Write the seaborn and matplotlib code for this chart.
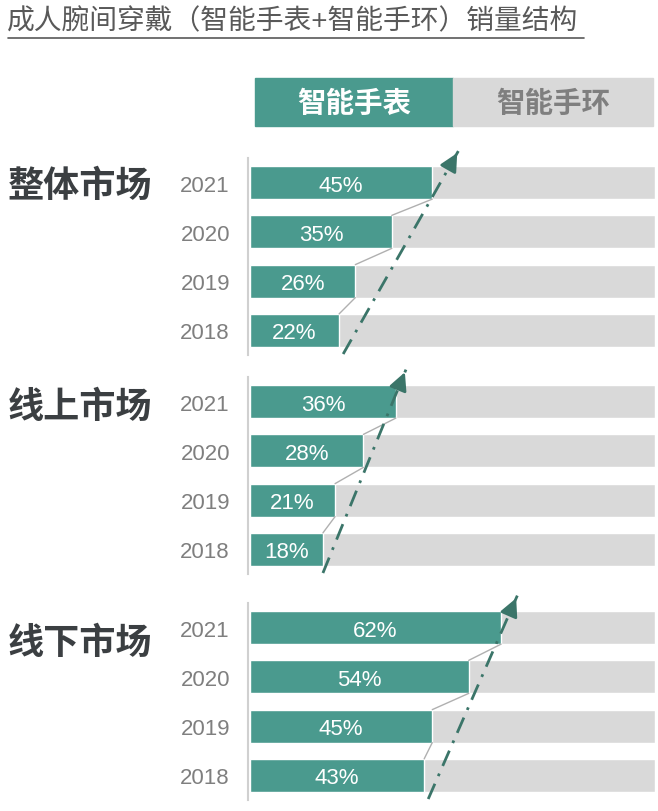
import pandas as pd
import matplotlib.pyplot as plt
import seaborn as sns
from matplotlib import patches
from matplotlib.lines import Line2D

# data
title = "成人腕间穿戴（智能手表+智能手环）销量结构"
legend_labels = ["智能手表", "智能手环"]
panel_names = ["整体市场", "线上市场", "线下市场"]
years = ["2021", "2020", "2019", "2018"]
overall = [45, 35, 26, 22]
online = [36, 28, 21, 18]
offline = [62, 54, 45, 43]
# trend arrow x start (below 2018) / end (above 2021)
trend_start = [23, 18, 44]
trend_end = [51.5, 38.5, 66]

teal = "#4a9a8e"
light = "#d9d9d9"
arrow_col = "#3b7569"

sns.set_theme(style="white")
plt.rcParams['font.family'] = ['Liberation Sans', 'Noto Sans CJK SC', 'DejaVu Sans']

W, H = 658, 812
fig = plt.figure(figsize=(W / 100, H / 100), dpi=100)

# title with underline
fig.text(7 / W, 1 - 22 / H, title, fontsize=20, color="#595959", va="center", ha="left")
fig.add_artist(Line2D([8 / W, 584 / W], [1 - 39 / H, 1 - 39 / H], color="#595959", lw=1.2))

# legend boxes
fig.add_artist(patches.Rectangle((255 / W, 1 - 127 / H), 198 / W, 48 / H, color=teal, transform=fig.transFigure))
fig.add_artist(patches.Rectangle((453 / W, 1 - 127 / H), 200 / W, 48 / H, color=light, transform=fig.transFigure))
fig.text(354 / W, 1 - 104 / H, legend_labels[0], fontsize=20.5, fontweight="bold", color="white", ha="center", va="center")
fig.text(553 / W, 1 - 104 / H, legend_labels[1], fontsize=20.5, fontweight="bold", color="#7f7f7f", ha="center", va="center")

series = [overall, online, offline]
tops = [159, 378, 604]
label_y = [188, 409, 645]
h = 0.67

for k, vals in enumerate(series):
    top = tops[k]
    bottom = top + 197
    ax = fig.add_axes([248 / W, 1 - bottom / H, 407 / W, 197 / H])
    df = pd.DataFrame({"year": years, "watch": vals, "total": [100] * len(vals)})
    sns.barplot(data=df, x="total", y="year", orient="h", color=light, width=h, saturation=1, ax=ax)
    sns.barplot(data=df, x="watch", y="year", orient="h", color=teal, width=h, saturation=1, ax=ax)
    ax.set_xlim(-0.5, 100)
    ax.set_ylim(3.5, -0.5)
    ax.set_xlabel("")
    ax.set_ylabel("")
    ax.set_xticks([])
    for s in ["top", "right", "bottom"]:
        ax.spines[s].set_visible(False)
    ax.spines["left"].set_color("#d0d0d0")
    ax.spines["left"].set_linewidth(1.5)
    ax.tick_params(axis="y", length=0, pad=13, labelsize=16, labelcolor="#7f7f7f")

    for i, v in enumerate(vals):
        ax.text(v / 2, i, f"{v}%", color="white", fontsize=16, ha="center", va="center_baseline")
    # connectors between bar ends
    for i in range(len(vals) - 1):
        ax.plot([vals[i + 1], vals[i]], [i + 1 - h / 2, i + h / 2], color="#b0b0b0", lw=1)

    # trend arrow
    y0, y1 = 3.48, -0.65
    x0, x1 = trend_start[k], trend_end[k]
    ax.plot([x0, x1], [y0, y1], color=arrow_col, lw=2, linestyle=(0, (6, 3, 1, 3)), clip_on=False)
    fx = x0 + (x1 - x0) * 0.95
    fy = y0 + (y1 - y0) * 0.95
    ax.annotate("", xy=(x1, y1), xytext=(fx, fy),
                arrowprops=dict(arrowstyle="-|>,head_length=0.9,head_width=0.45", color=arrow_col, lw=2),
                annotation_clip=False)

    fig.text(8 / W, 1 - label_y[k] / H, panel_names[k], fontsize=26, fontweight="bold",
             color="#3b3f42", ha="left", va="center")

fig.savefig("out.png", dpi=100)
